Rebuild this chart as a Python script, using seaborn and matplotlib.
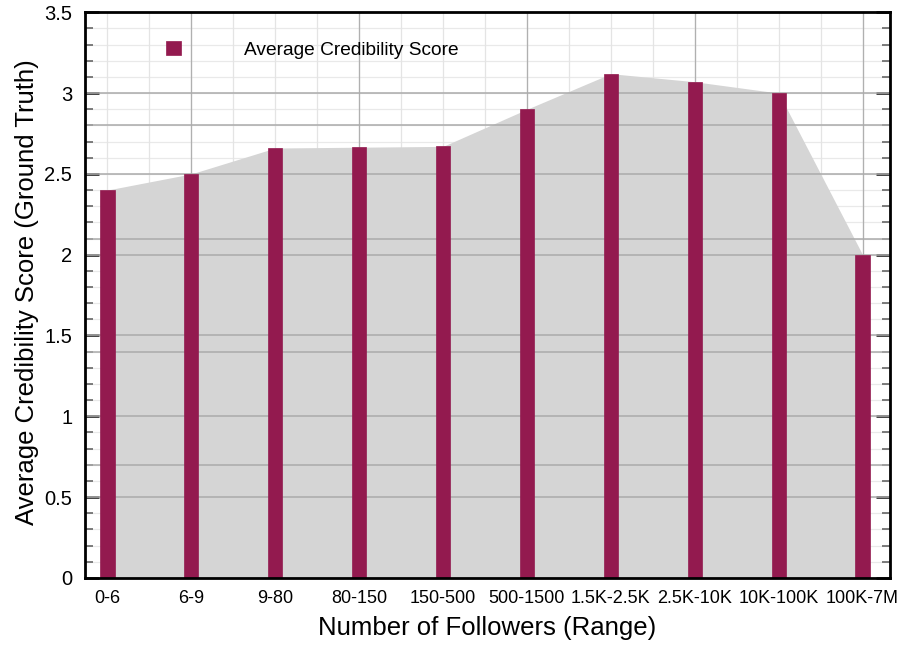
import matplotlib
matplotlib.use("Agg")
import matplotlib.pyplot as plt
import numpy as np
import pandas as pd
import seaborn as sns

# data
follower_ranges = ['0-6', '6-9', '9-80', '80-150', '150-500', '500-1500',
                   '1.5K-2.5K', '2.5K-10K', '10K-100K', '100K-7M']
avg_credibility = [2.40, 2.50, 2.66, 2.665, 2.67, 2.90, 3.12, 3.07, 3.00, 2.00]
y_ticks = [0, 0.5, 1, 1.5, 2, 2.5, 3, 3.5]

bar_color = '#931a4f'
area_color = '#d5d5d5'

df = pd.DataFrame({'range': follower_ranges, 'score': avg_credibility})

sns.set_style("white")
plt.rcParams['font.family'] = ['Liberation Sans', 'DejaVu Sans']
plt.rcParams['text.color'] = 'black'
plt.rcParams['axes.labelcolor'] = 'black'
plt.rcParams['xtick.labelcolor'] = 'black'
plt.rcParams['ytick.labelcolor'] = 'black'

fig = plt.figure(figsize=(9.02, 6.45), dpi=100)
ax = fig.add_axes([0.094, 0.104, 0.893, 0.877])

pos = np.arange(len(follower_ranges))

# light background grid
for yv in np.arange(0, 3.51, 0.1):
    ax.axhline(yv, color='#e9e9e9', lw=0.9, zorder=0)
for xv in np.arange(-0.5, 9.6, 0.5):
    ax.axvline(xv, color='#e4e4e4', lw=0.9, zorder=0)
for xv in pos[1::2]:
    ax.axvline(xv, color='#b0b0b0', lw=0.9, zorder=0.5)

# shaded area under the bar tops
ax.fill_between(pos, df['score'], 0, color=area_color, lw=0, zorder=1)

# darker horizontal lines (two overlaid grids)
for yv in list(np.arange(0.5, 3.4, 0.5)) + list(np.arange(0.7, 3.4, 0.7)):
    ax.axhline(yv, color='#ababab', lw=1.1, zorder=1.5)

sns.barplot(data=df, x='range', y='score', color=bar_color, saturation=1,
            width=0.17, ax=ax, zorder=3, edgecolor=bar_color, linewidth=0.5,
            label='Average Credibility Score')

ax.set_xlim(-0.27, 9.33)
ax.set_ylim(0, 3.5)
ax.set_yticks(y_ticks)
ax.set_yticklabels(['%g' % t for t in y_ticks])
ax.set_yticks(np.arange(0, 3.51, 0.1), minor=True)
ax.set_xticks(pos)
ax.set_xticklabels(follower_ranges)
ax.set_xticks(pos[:-1] + 0.5, minor=True)

ax.tick_params(axis='y', which='major', direction='in', length=10, width=2,
               labelsize=14.5, pad=9, left=True, right=True, color='#333333')
ax.tick_params(axis='y', which='minor', direction='in', length=6, width=1.2,
               left=True, right=True, color='#666666')
ax.tick_params(axis='x', which='major', length=0, labelsize=13, pad=9)
ax.tick_params(axis='x', which='minor', direction='in', length=5, width=1.2,
               bottom=True, color='#777777')

for side in ['left', 'right', 'top', 'bottom']:
    ax.spines[side].set_visible(True)
    ax.spines[side].set_color('black')
    ax.spines[side].set_linewidth(2)
    ax.spines[side].set_zorder(5)

ax.set_xlabel('Number of Followers (Range)', fontsize=18.5, labelpad=6)
ax.set_ylabel('Average Credibility Score (Ground Truth)', fontsize=18.5)
ax.yaxis.set_label_coords(-0.057, 0.505)

leg = ax.legend(loc='upper left', bbox_to_anchor=(0.08, 0.98), frameon=False,
                fontsize=13.8, handlelength=0.75, handleheight=0.75, handletextpad=3.3)

plt.savefig("out.png", dpi=100)
